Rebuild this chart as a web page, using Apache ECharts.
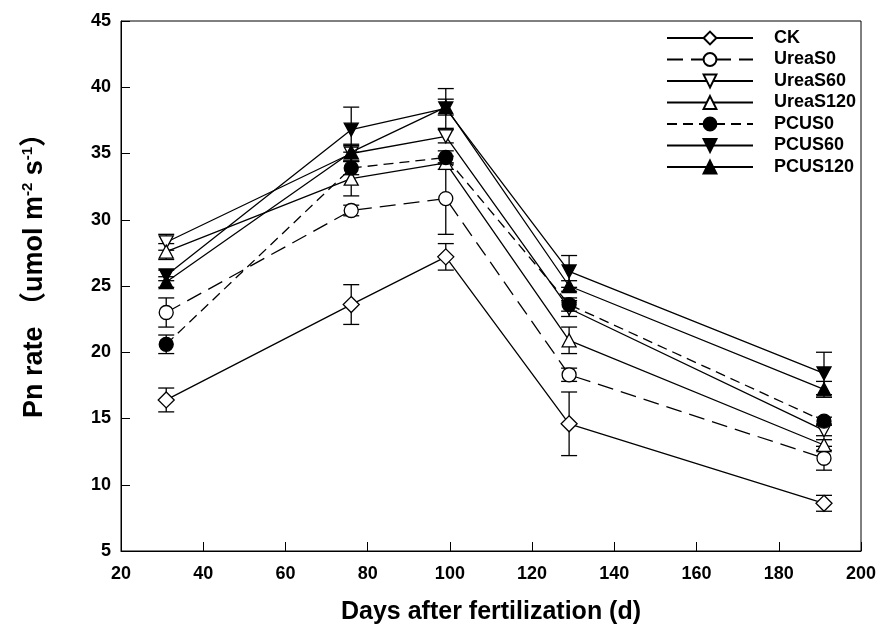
<!DOCTYPE html>
<html>
<head>
<meta charset="utf-8">
<script src="https://cdn.jsdelivr.net/npm/echarts@6/dist/echarts.min.js"></script>
<style>
html, body { margin: 0; padding: 0; background: #fff; }
#chart { width: 880px; height: 632px; }
</style>
</head>
<body>
<div id="chart"></div>
<script>
// days after fertilization
var days = [31, 76, 99, 129, 191];
var xTicks = [20, 40, 60, 80, 100, 120, 140, 160, 180, 200];
var yTicks = [5, 10, 15, 20, 25, 30, 35, 40, 45];

// Pn rate means and error bars
var CK = [16.4, 23.6, 27.2, 14.6, 8.6];
var CKErr = [0.9, 1.5, 1.0, 2.4, 0.6];
var UreaS0 = [23.0, 30.7, 31.6, 18.3, 12.0];
var UreaS0Err = [1.1, 0.4, 2.7, 0.5, 0.9];
var UreaS60 = [28.3, 35.0, 36.3, 23.3, 14.1];
var UreaS60Err = [0.6, 0.6, 0.5, 0.6, 0.4];
var UreaS120 = [27.6, 33.1, 34.3, 20.9, 13.0];
var UreaS120Err = [0.6, 1.3, 0.5, 1.0, 0.4];
var PCUS0 = [20.6, 33.9, 34.7, 23.6, 14.8];
var PCUS0Err = [0.7, 0.5, 0.5, 0.5, 0.3];
var PCUS60 = [25.8, 36.8, 38.4, 26.1, 18.4];
var PCUS60Err = [0.4, 1.7, 1.5, 1.2, 1.6];
var PCUS120 = [25.3, 35.1, 38.5, 25.0, 17.2];
var PCUS120Err = [0.4, 0.6, 0.6, 0.4, 0.6];

var treatments = [
  { name: 'CK', values: CK, err: CKErr, symbol: 'diamond', size: [16, 16], fill: false, dash: 'solid', rotate: 0 },
  { name: 'UreaS0', values: UreaS0, err: UreaS0Err, symbol: 'circle', size: 14, fill: false, dash: [16, 8], rotate: 0 },
  { name: 'UreaS60', values: UreaS60, err: UreaS60Err, symbol: 'triangle', size: [14, 13], fill: false, dash: 'solid', rotate: 180 },
  { name: 'UreaS120', values: UreaS120, err: UreaS120Err, symbol: 'triangle', size: [14, 13], fill: false, dash: 'solid', rotate: 0 },
  { name: 'PCUS0', values: PCUS0, err: PCUS0Err, symbol: 'circle', size: 14, fill: true, dash: [10, 6], rotate: 0 },
  { name: 'PCUS60', values: PCUS60, err: PCUS60Err, symbol: 'triangle', size: [14, 13], fill: true, dash: 'solid', rotate: 180 },
  { name: 'PCUS120', values: PCUS120, err: PCUS120Err, symbol: 'triangle', size: [14, 13], fill: true, dash: 'solid', rotate: 0 }
];

var font = "'Liberation Sans', Arial, 'Noto Sans CJK SC', sans-serif";

function renderErr(params, api) {
  var x = api.value(0);
  var top = api.coord([x, api.value(2)]);
  var bot = api.coord([x, api.value(1)]);
  var w = 8;
  var st = { stroke: '#000', lineWidth: 1.3 };
  return {
    type: 'group',
    children: [
      { type: 'line', shape: { x1: top[0], y1: top[1], x2: bot[0], y2: bot[1] }, style: st },
      { type: 'line', shape: { x1: top[0] - w, y1: top[1], x2: top[0] + w, y2: top[1] }, style: st },
      { type: 'line', shape: { x1: bot[0] - w, y1: bot[1], x2: bot[0] + w, y2: bot[1] }, style: st }
    ]
  };
}

var series = [];
treatments.forEach(function (t) {
  series.push({
    name: t.name + '_err',
    type: 'custom',
    renderItem: renderErr,
    encode: { x: 0, y: [1, 2] },
    z: 1,
    silent: true,
    data: days.map(function (d, i) { return [d, t.values[i] - t.err[i], t.values[i] + t.err[i]]; })
  });
});
treatments.forEach(function (t, k) {
  series.push({
    name: t.name,
    type: 'line',
    z: 2 + k,
    symbol: t.symbol,
    symbolSize: t.size,
    symbolRotate: t.rotate,
    showAllSymbol: true,
    lineStyle: { color: '#000', width: 1.3, type: t.dash },
    itemStyle: { color: t.fill ? '#000' : '#fff', borderColor: '#000', borderWidth: 1.3 },
    data: days.map(function (d, i) { return [d, t.values[i]]; })
  });
});

var chart = echarts.init(document.getElementById('chart'));
var option = {
  animation: false,
  backgroundColor: '#fff',
  textStyle: { fontFamily: font },
  grid: { left: 121, right: 19, top: 21, bottom: 81, show: true, borderColor: '#000', borderWidth: 1 },
  legend: {
    data: treatments.map(function (t) { return t.name; }),
    orient: 'vertical',
    left: 661,
    top: 24,
    itemWidth: 86,
    itemHeight: 16,
    itemGap: 3.5,
    textStyle: { color: '#000', fontSize: 18, lineHeight: 16, fontWeight: 'bold', fontFamily: font, padding: [0, 0, 0, 16] }
  },
  xAxis: {
    type: 'value',
    min: xTicks[0],
    max: xTicks[xTicks.length - 1],
    interval: 20,
    name: 'Days after fertilization (d)',
    nameLocation: 'middle',
    nameGap: 49,
    nameTextStyle: { color: '#000', fontSize: 25, fontWeight: 'bold', fontFamily: font },
    axisLine: { lineStyle: { color: '#000', width: 1 } },
    axisTick: { inside: true, length: 9, lineStyle: { color: '#000' } },
    axisLabel: { color: '#000', fontSize: 18, fontWeight: 'bold', margin: 14, fontFamily: font },
    splitLine: { show: false }
  },
  yAxis: {
    type: 'value',
    min: yTicks[0],
    max: yTicks[yTicks.length - 1],
    interval: 5,
    name: 'Pn rate （umol m{s|-2} s{s|-1}）',
    nameLocation: 'middle',
    nameRotate: 90,
    nameGap: 72,
    nameTextStyle: {
      color: '#000', fontSize: 27, fontWeight: 'bold', fontFamily: font, padding: [0, 0, 0, 34],
      rich: { s: { color: '#000', fontSize: 15, fontWeight: 'bold', fontFamily: font, padding: [0, 0, 14, 0] } }
    },
    axisLine: { lineStyle: { color: '#000', width: 1 } },
    axisTick: { inside: true, length: 9, lineStyle: { color: '#000' } },
    axisLabel: { color: '#000', fontSize: 18, fontWeight: 'bold', margin: 10, fontFamily: font },
    splitLine: { show: false }
  },
  series: series
};
chart.setOption(option);
</script>
</body>
</html>
